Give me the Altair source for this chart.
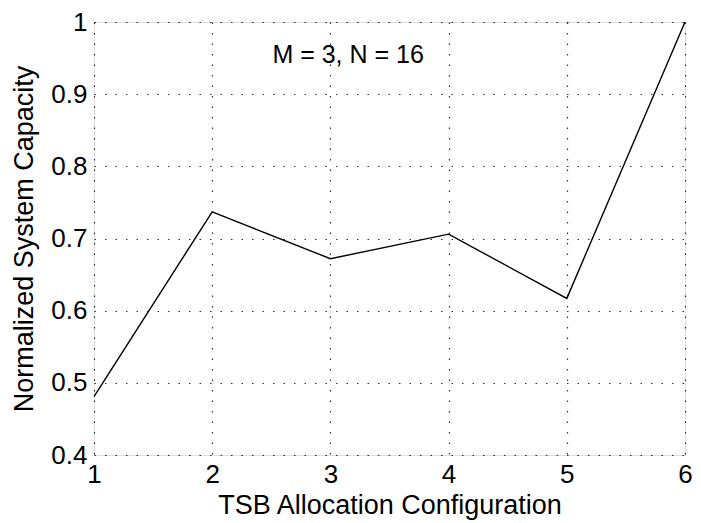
import altair as alt
import pandas as pd

configs = [1, 2, 3, 4, 5, 6]
capacity = [0.481, 0.737, 0.672, 0.706, 0.617, 1.0]
x_ticks = [1, 2, 3, 4, 5, 6]
y_ticks = [0.4, 0.5, 0.6, 0.7, 0.8, 0.9, 1.0]
note_text = ["M = 3, N = 16"]
note_x = [3.15]
note_y = [0.9434]

df = pd.DataFrame({"config": configs, "capacity": capacity})
notes = pd.DataFrame({"x": note_x, "y": note_y, "label": note_text})

FONT = "Liberation Sans"
W, H = 591, 433

xscale = alt.Scale(domain=[1, 6], nice=False, zero=False)
yscale = alt.Scale(domain=[0.4, 1.0], nice=False, zero=False)

line = alt.Chart(df).mark_line(color="black", strokeWidth=1.4).encode(
    x=alt.X("config:Q", scale=xscale,
            axis=alt.Axis(title="TSB Allocation Configuration", values=x_ticks,
                          format="d", grid=True, gridColor="black", gridDash=[1.5, 9],
                          gridWidth=1.2, gridOpacity=0.8, ticks=False, domain=False,
                          labelFont=FONT, labelFontSize=26, labelColor="black",
                          labelPadding=6, labelFlush=False,
                          titleFont=FONT, titleFontSize=27, titleFontWeight="normal",
                          titleColor="black", titleY=58, titleBaseline="alphabetic")),
    y=alt.Y("capacity:Q", scale=yscale,
            axis=alt.Axis(title="Normalized System Capacity", values=y_ticks,
                          grid=True, gridColor="black", gridDash=[1.5, 9],
                          gridWidth=1.2, gridOpacity=0.8, ticks=False, domain=False,
                          labelExpr="datum.value == 1 ? '1' : format(datum.value, '.1f')",
                          labelFont=FONT, labelFontSize=26, labelColor="black",
                          labelPadding=7, labelFlush=False,
                          titleFont=FONT, titleFontSize=27, titleFontWeight="normal",
                          titleColor="black", titleX=-70, titleY=H / 2,
                          titleBaseline="middle", titleAngle=-90)),
)

text = alt.Chart(notes).mark_text(font=FONT, fontSize=25, color="black",
                                  align="center", baseline="alphabetic").encode(
    x=alt.X("x:Q", scale=xscale),
    y=alt.Y("y:Q", scale=yscale),
    text="label:N",
)

chart = alt.layer(line, text).properties(
    width=W, height=H,
    autosize=alt.AutoSizeParams(type="none"),
    padding={"left": 86, "top": 14, "right": 8, "bottom": 66},
).configure_view(stroke="black", strokeWidth=1.6).configure(background="white")

chart.save("out.html", embed_options={"renderer": "svg", "actions": False})
